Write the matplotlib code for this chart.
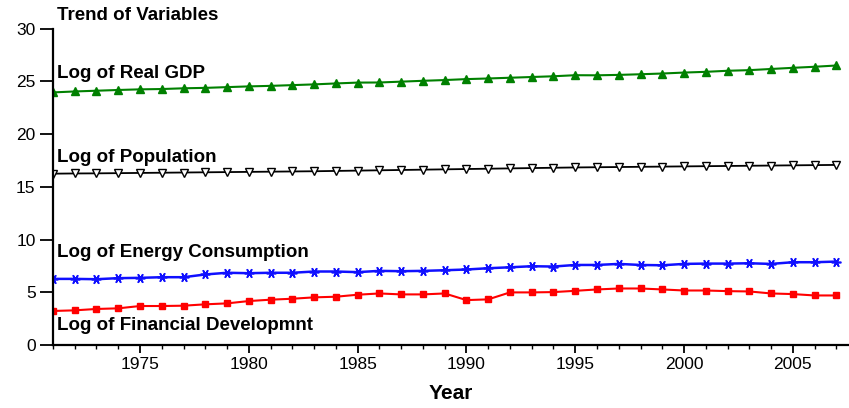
import matplotlib
matplotlib.use("Agg")
import matplotlib.pyplot as plt
import numpy as np

plt.rcParams['font.family'] = ['Liberation Sans', 'DejaVu Sans']

years = list(range(1971, 2008))

log_gdp = [23.95, 24.04, 24.11, 24.18, 24.24, 24.27, 24.34, 24.38, 24.45, 24.52,
           24.57, 24.64, 24.71, 24.80, 24.88, 24.89, 24.97, 25.05, 25.12, 25.21,
           25.27, 25.34, 25.41, 25.48, 25.58, 25.57, 25.61, 25.67, 25.74, 25.83,
           25.90, 26.00, 26.06, 26.17, 26.28, 26.38, 26.50]

log_pop = [16.25, 16.27, 16.28, 16.30, 16.32, 16.34, 16.36, 16.38, 16.40, 16.42,
           16.44, 16.46, 16.48, 16.51, 16.54, 16.57, 16.60, 16.63, 16.66, 16.69,
           16.72, 16.75, 16.78, 16.81, 16.84, 16.86, 16.88, 16.90, 16.92, 16.94,
           16.96, 16.98, 17.00, 17.02, 17.04, 17.06, 17.08]

log_energy = [6.28, 6.28, 6.25, 6.35, 6.38, 6.44, 6.44, 6.70, 6.86, 6.82,
              6.86, 6.86, 6.98, 6.98, 6.92, 7.04, 7.01, 7.04, 7.10, 7.17,
              7.29, 7.38, 7.48, 7.45, 7.60, 7.60, 7.70, 7.60, 7.57, 7.70,
              7.73, 7.73, 7.76, 7.70, 7.86, 7.86, 7.92]

log_fin = [3.24, 3.30, 3.43, 3.49, 3.71, 3.71, 3.74, 3.87, 3.96, 4.18,
           4.31, 4.40, 4.53, 4.59, 4.78, 4.90, 4.81, 4.81, 4.90, 4.27,
           4.34, 5.00, 5.00, 5.03, 5.15, 5.28, 5.37, 5.37, 5.28, 5.18,
           5.18, 5.12, 5.09, 4.90, 4.84, 4.71, 4.71]

series_labels = ["Log of Real GDP", "Log of Population",
                 "Log of Energy Consumption", "Log of Financial Developmnt"]
title = "Trend of Variables"

fig = plt.figure(figsize=(8.49, 4.08), dpi=100)
ax = fig.add_axes([0.0624, 0.154, 0.9376, 0.776])

ax.plot(years, log_gdp, color='#008000', lw=1.5, marker='^', ms=5.5,
        mfc='#008000', mec='#008000')
ax.plot(years, log_pop, color='black', lw=1.3, marker='v', ms=5.5,
        mfc='white', mec='black', mew=1.0)
ax.plot(years, log_energy, color='#1010ff', lw=1.8, marker=(6, 2, 90), ms=7,
        mec='#1010ff', mew=1.2)
ax.plot(years, log_fin, color='#ff0000', lw=1.5, marker='s', ms=4.8,
        mfc='#ff0000', mec='#ff0000')

ax.set_xlim(1971, 2007.58)
ax.set_ylim(0, 30)
ax.set_yticks(np.arange(0, 31, 5))
ax.set_xticks(np.arange(1975, 2007, 5))
ax.set_xticks(np.arange(1971, 2008, 1), minor=True)

for s in ['top', 'right']:
    ax.spines[s].set_visible(False)
for s in ['left', 'bottom']:
    ax.spines[s].set_linewidth(1.6)

ax.tick_params(axis='y', which='major', direction='out', length=9.5, width=1.3,
               labelsize=12.5, pad=3)
ax.tick_params(axis='x', which='major', direction='out', length=5.5, width=1.3,
               labelsize=12.5, pad=3)
ax.tick_params(axis='x', which='minor', direction='out', length=3, width=1.0)

ax.set_xlabel("Year", fontsize=15, fontweight='bold', labelpad=9)

lab_kw = dict(fontsize=13.5, fontweight='bold', va='center', ha='left', clip_on=False)
ax.text(1971.2, 31.25, title, **lab_kw)
ax.text(1971.2, 25.75, series_labels[0], **lab_kw)
ax.text(1971.2, 17.8, series_labels[1], **lab_kw)
ax.text(1971.2, 8.75, series_labels[2], **lab_kw)
ax.text(1971.2, 1.9, series_labels[3], **lab_kw)

fig.savefig("out.png", dpi=100)
